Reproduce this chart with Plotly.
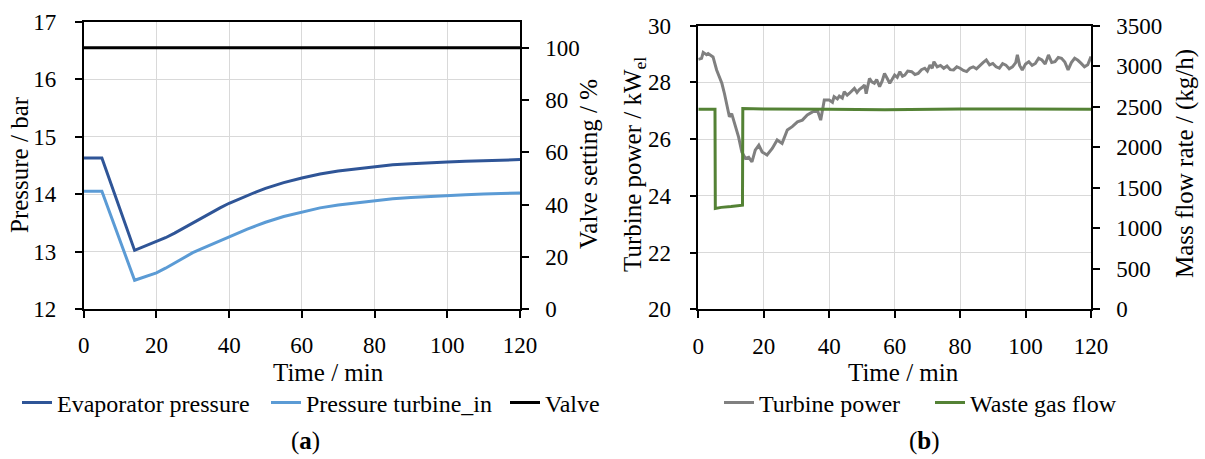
import plotly.graph_objects as go

# ---------------- Data (a) ----------------
time_a = [0, 2, 5, 14, 16, 18, 20, 22.5, 25, 27.5, 30, 32.5, 35, 37.5, 40, 42.5, 45, 47.5, 50,
          55, 60, 65, 70, 75, 80, 85, 90, 95, 100, 105, 110, 115, 120]
evap_pressure = [14.63, 14.63, 14.63, 13.02, 13.07, 13.12, 13.17, 13.24, 13.32, 13.41, 13.50, 13.59, 13.68,
                 13.76, 13.84, 13.91, 13.98, 14.04, 14.10, 14.20, 14.28, 14.35, 14.40, 14.44, 14.48,
                 14.51, 14.53, 14.55, 14.56, 14.57, 14.58, 14.59, 14.60]
turbine_in_pressure = [14.05, 14.05, 14.05, 12.50, 12.54, 12.58, 12.63, 12.71, 12.80, 12.89, 12.98, 13.05, 13.12,
                       13.19, 13.25, 13.32, 13.39, 13.45, 13.51, 13.61, 13.69, 13.76, 13.81, 13.85, 13.89,
                       13.92, 13.94, 13.96, 13.98, 13.99, 14.00, 14.01, 14.02]
valve_time = [0, 120]
valve_setting = [100, 100]

# ---------------- Data (b) ----------------
time_b = [0, 1, 1.5, 2.5, 3, 4, 4.5, 5.6, 6.5, 7.2, 8, 8.7, 9.5, 10.2, 10.8, 11.5, 12.3, 13.3, 14.4,
          15.4, 16.4, 17.4, 18.5, 19.5, 21, 22.6, 24.1, 25.6, 27.2, 28.7, 30.3, 31.8, 33.3, 34.9,
          36.4, 37.4, 38.5,
          40, 41, 41.5, 42.5, 43.1, 44, 44.6, 45.5, 46.2, 47, 47.7, 48.5, 49.2, 50, 50.8, 51.3, 52.3,
          53, 53.8, 54.5, 55.4, 56.2, 56.9, 57.7, 58.5, 59.2, 60, 60.8, 61.6, 62.4, 63.1, 64, 65.2,
          66.2, 67.2, 68.2, 69.2, 70, 70.8, 71.5, 72, 73, 74, 75, 76, 77, 78, 79, 80, 81, 82, 83,
          84, 85, 86, 87, 88, 89, 90, 91, 92, 93, 94, 95, 96, 97, 97.5, 98.2, 99, 100, 101, 102,
          103, 104, 105, 106, 107, 108, 109, 110, 111, 112, 113, 114, 115, 116, 117, 118, 119, 120]
turbine_power = [28.81, 28.85, 29.06, 28.98, 29.02, 28.93, 28.90, 28.44, 28.20, 27.97, 27.60, 27.26,
                 26.79, 26.90, 26.67, 26.45, 26.08, 25.55, 25.32, 25.36, 25.20, 25.61, 25.79, 25.55,
                 25.44, 25.67, 25.97, 25.85, 26.32, 26.44, 26.61, 26.67, 26.85, 26.96, 27.02, 26.67,
                 27.38,
                 27.38, 27.30, 27.50, 27.42, 27.52, 27.45, 27.67, 27.55, 27.62, 27.70, 27.79, 27.65, 27.75,
                 27.82, 27.91, 27.60, 28.14, 28.02, 27.97, 28.10, 27.85, 28.05, 28.32, 28.15, 27.97, 28.10,
                 28.26, 28.18, 28.38, 28.22, 28.26, 28.40, 28.38, 28.28, 28.32, 28.45, 28.50, 28.40, 28.61,
                 28.50, 28.73, 28.55, 28.60, 28.50, 28.58, 28.45, 28.44, 28.55, 28.50, 28.42, 28.38, 28.50,
                 28.55, 28.48, 28.61, 28.70, 28.79, 28.62, 28.67, 28.55, 28.50, 28.66, 28.61, 28.48, 28.55,
                 28.70, 28.97, 28.60, 28.44, 28.65, 28.73, 28.60, 28.67, 28.85, 28.79, 28.65, 28.97, 28.70,
                 28.73, 28.88, 28.85, 28.72, 28.44, 28.70, 28.85, 28.78, 28.67, 28.55, 28.62, 28.91]
flow_time = [0, 3, 5.1, 5.2, 7, 10, 13.5, 13.6, 20, 40, 57, 80, 100, 120]
waste_gas_flow = [2470, 2472, 2470, 1245, 1258, 1268, 1285, 2478, 2472, 2470, 2462, 2472, 2468, 2470]

FONT = "'Liberation Serif', 'Times New Roman', 'DejaVu Serif', serif"
W, H = 1205, 459

def px(x):
    return x / W

def py(y):
    return 1 - y / H

fig = go.Figure()

fig.add_trace(go.Scatter(x=time_a, y=evap_pressure, mode="lines", name="Evaporator pressure",
                         line=dict(color="#2F5597", width=3), xaxis="x", yaxis="y",
                         legend="legend", legendwidth=204))
fig.add_trace(go.Scatter(x=time_a, y=turbine_in_pressure, mode="lines", name="Pressure turbine_in",
                         line=dict(color="#5B9BD5", width=3), xaxis="x", yaxis="y",
                         legend="legend", legendwidth=194))
fig.add_trace(go.Scatter(x=valve_time, y=valve_setting, mode="lines", name="Valve",
                         line=dict(color="#000000", width=3), xaxis="x", yaxis="y2", legend="legend"))

fig.add_trace(go.Scatter(x=time_b, y=turbine_power, mode="lines", name="Turbine power",
                         line=dict(color="#808080", width=3), xaxis="x2", yaxis="y3",
                         legend="legend2", legendwidth=166))
fig.add_trace(go.Scatter(x=flow_time, y=waste_gas_flow, mode="lines", name="Waste gas flow",
                         line=dict(color="#548235", width=3), xaxis="x2", yaxis="y4", legend="legend2"))

tickfont = dict(family=FONT, size=23, color="#000000")
common_x = dict(range=[0, 120], dtick=20, showgrid=True, gridcolor="#D9D9D9", gridwidth=1.3,
                showline=True, linecolor="#000000", linewidth=1.5, mirror=True,
                ticks="outside", ticklen=7, tickcolor="#000000", tickwidth=1.5,
                tickfont=tickfont, ticklabelstandoff=8, zeroline=False, automargin=False)
common_y = dict(showgrid=True, gridcolor="#D9D9D9", gridwidth=1.3,
                showline=True, linecolor="#000000", linewidth=1.5,
                ticks="outside", ticklen=7, tickcolor="#000000", tickwidth=1.5,
                tickfont=tickfont, ticklabelstandoff=14, zeroline=False, automargin=False)

yA = [py(309), py(21.7)]
yB = [py(309.3), py(25.7)]

legend_common = dict(orientation="h", xanchor="left", yanchor="middle",
                     xref="container", yref="container",
                     font=dict(family=FONT, size=24, color="#000000"),
                     bgcolor="rgba(0,0,0,0)", itemwidth=30, tracegroupgap=0)

fig.update_layout(
    width=W, height=H, margin=dict(l=0, r=0, t=0, b=0, autoexpand=False),
    paper_bgcolor="white", plot_bgcolor="white",
    font=dict(family=FONT, size=23, color="#000000"),
    xaxis=dict(domain=[px(83.7), px(520)], anchor="y", **common_x),
    yaxis=dict(domain=yA, anchor="x", range=[12, 17], dtick=1, **common_y),
    yaxis2=dict(overlaying="y", anchor="x", side="right", range=[0, 110],
                tickvals=[0, 20, 40, 60, 80, 100], **{**common_y, "showgrid": False,
                                                      "ticklabelstandoff": 12}),
    xaxis2=dict(domain=[px(698.3), px(1091)], anchor="y3", **common_x),
    yaxis3=dict(domain=yB, anchor="x2", range=[20, 30], dtick=2, **common_y),
    yaxis4=dict(overlaying="y3", anchor="x2", side="right", range=[0, 3500], dtick=500,
                **{**common_y, "showgrid": False, "ticklabelstandoff": 12}),
    legend=dict(x=px(17), y=py(403), **legend_common),
    legend2=dict(x=px(719), y=py(403), **legend_common),
    showlegend=True,
)

ann = [
    dict(text="Pressure / bar", x=px(19), y=py(165), textangle=-90),
    dict(text="Valve setting / %", x=px(588), y=py(164), textangle=-90),
    dict(text="Turbine power / kW<sub>el</sub>", x=px(634), y=py(165), textangle=-90),
    dict(text="Mass flow rate / (kg/h)", x=px(1185), y=py(164), textangle=-90),
    dict(text="Time / min", x=px(328), y=py(372)),
    dict(text="Time / min", x=px(903), y=py(372)),
    dict(text="(<b>a</b>)", x=px(305), y=py(441)),
    dict(text="(<b>b</b>)", x=px(924), y=py(441)),
]
for a in ann:
    fig.add_annotation(xref="paper", yref="paper", showarrow=False, xanchor="center", yanchor="middle",
                       font=dict(family=FONT, size=25, color="#000000"), **a)

fig.write_html("out.html")
